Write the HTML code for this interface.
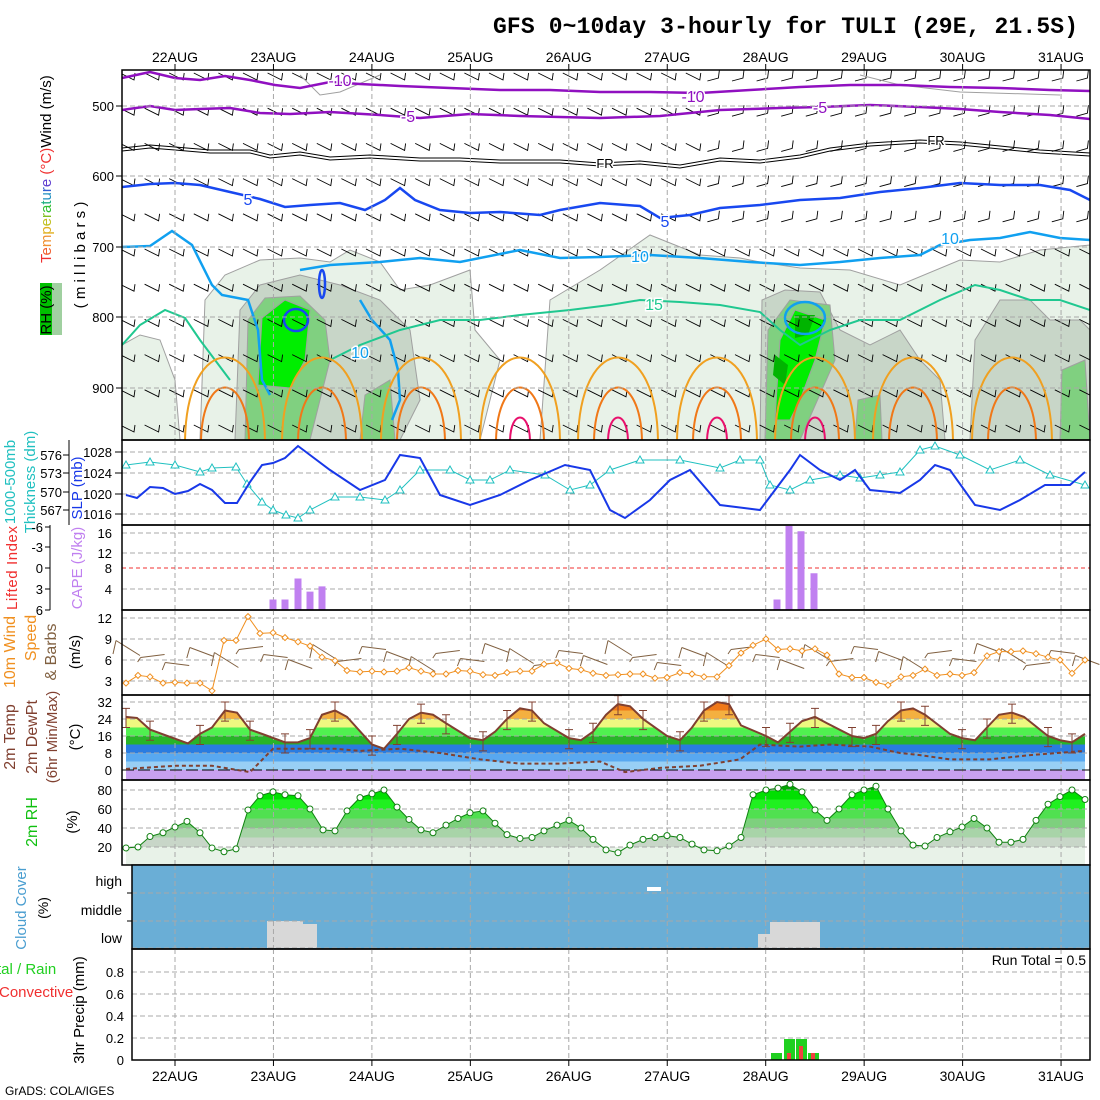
<!DOCTYPE html>
<html><head><meta charset="utf-8"><style>
html,body{margin:0;padding:0;background:#fff;width:1100px;height:1100px;overflow:hidden}
svg{display:block}
text{font-family:"Liberation Sans",sans-serif}
</style></head><body>
<svg id="s" width="1100" height="1100" xmlns="http://www.w3.org/2000/svg"></svg>
<script>
var S=[];function a(s){S.push(s);}
var L=122,R=1090;
var days=['22AUG','23AUG','24AUG','25AUG','26AUG','27AUG','28AUG','29AUG','30AUG','31AUG'];
function dx(i){return 175+98.45*i;}
function pl(pts,st){return '<polyline fill="none" points="'+pts.map(function(p){return p[0]+','+p[1]}).join(' ')+'" '+st+'/>';}
function txt(x,y,t,st){a('<text x="'+x+'" y="'+y+'" '+(st||'')+'>'+t+'</text>');}
function rot(x,y,t,st){a('<text transform="translate('+x+','+y+') rotate(-90)" text-anchor="middle" '+(st||'')+'>'+t+'</text>');}
function hgrid(y,x0){a('<line x1="'+(x0||L)+'" x2="'+R+'" y1="'+y+'" y2="'+y+'" stroke="#a8a8a8" stroke-dasharray="5,3"/>');}
function vgrid(y0,y1){for(var i=0;i<10;i++)a('<line x1="'+dx(i)+'" x2="'+dx(i)+'" y1="'+y0+'" y2="'+y1+'" stroke="#a8a8a8" stroke-dasharray="5,3"/>');}
a('<text x="493" y="33" font-family="Liberation Mono" font-weight="bold" font-size="23" textLength="585" style="font-family:\'Liberation Mono\',monospace">GFS 0~10day 3-hourly for TULI (29E, 21.5S)</text>');
for(var i=0;i<10;i++){txt(dx(i),62,days[i],'font-size="14" text-anchor="middle" textLength="46"');txt(dx(i),1081,days[i],'font-size="14" text-anchor="middle" textLength="46"');
 a('<line x1="'+dx(i)+'" x2="'+dx(i)+'" y1="64" y2="70" stroke="#000"/>');a('<line x1="'+dx(i)+'" x2="'+dx(i)+'" y1="1060" y2="1066" stroke="#000"/>');}
a('<clipPath id="c1"><rect x="122" y="70" width="968" height="370"/></clipPath><g clip-path="url(#c1)">');
function poly(p,f){a('<polygon points="'+p+'" fill="'+f+'" stroke="#a0a0a0" stroke-width="1"/>');}
poly('200,440 205,300 225,275 260,260 300,258 330,262 350,250 380,262 400,290 430,285 470,270 475,330 500,360 480,440','#e8f2e8');
poly('122,440 122,345 140,335 160,340 175,380 180,440','#e8f2e8');
poly('540,440 550,300 600,270 650,235 700,255 740,258 760,262 800,268 850,270 900,285 960,260 1000,262 1040,250 1090,245 1090,440','#e8f2e8');
poly('235,440 240,310 260,285 300,275 340,285 380,300 410,330 420,400 400,440','#c8d6c8');
poly('760,440 762,300 785,290 820,292 840,330 870,345 900,330 920,360 940,380 945,440','#c8d6c8');
poly('970,440 975,340 1000,300 1030,300 1050,320 1080,320 1090,330 1090,440','#c8d6c8');
poly('245,440 248,320 265,298 300,296 325,320 330,360 310,440','#80d080');
poly('360,440 365,395 390,380 395,440','#80d080');
poly('765,440 768,330 790,300 830,305 835,360 800,440','#80d080');
poly('855,440 858,400 880,395 882,440','#80d080');
poly('1060,440 1062,370 1085,360 1090,440','#80d080');
poly('258,385 262,318 285,300 310,310 305,360 290,388','#00ee00');
poly('775,420 780,340 795,310 825,320 815,360 800,400 790,420','#00ee00');
a('<polygon points="795,315 815,315 808,335 795,338" fill="#00b400"/><polygon points="775,355 788,365 785,385 773,375" fill="#00b400"/>');
for(var j=0;j<11;j++){var y=78+j*35.2;for(var k=0;k<40;k++){var x=128+k*24.6;var up=(x>700&&j<5);
 if(up){a('<path d="M'+(x-11)+','+(y+3)+' L'+(x)+','+(y)+' L'+(x+1)+','+(y-8)+'" fill="none" stroke="#000" stroke-width="0.9"/>');}
 else{a('<path d="M'+(x-8)+','+(y-5)+' L'+(x+6)+','+(y+2)+' L'+(x+7)+','+(y-5)+'" fill="none" stroke="#000" stroke-width="0.9"/>');}}}
a(pl([[300,75],[320,95],[340,92],[380,75]],'stroke="#a0a0a0"'));
a(pl([[860,75],[900,85],[960,92],[1060,95]],'stroke="#a0a0a0"'));
a(pl([[122,78],[150,72],[175,78],[200,80],[225,76],[250,80],[275,85],[300,88],[330,82],[360,84],[400,86],[450,88],[500,90],[550,90],[600,92],[650,92],[700,93],[750,90],[800,87],[850,85],[900,85],[950,87],[1000,88],[1050,90],[1090,91]],'stroke="#9010c0" stroke-width="2.5"'));
a(pl([[122,110],[150,106],[175,110],[200,109],[230,108],[260,113],[290,114],[330,112],[380,115],[420,118],[470,114],[520,116],[600,118],[660,116],[720,110],[780,108],[820,107],[870,105],[920,107],[960,109],[1000,112],[1050,115],[1090,119]],'stroke="#9010c0" stroke-width="2.5"'));
var fr=[[122,148],[150,145],[175,147],[210,150],[250,150],[270,155],[300,152],[330,157],[370,155],[420,158],[460,158],[500,160],[560,160],[600,163],[640,161],[680,165],[720,158],[760,160],[800,155],[830,148],[870,143],[920,140],[960,142],[1000,146],[1040,150],[1090,153]];
a(pl(fr,'stroke="#000" stroke-width="1"'));a(pl(fr.map(function(p){return [p[0],p[1]+3]}),'stroke="#000" stroke-width="1"'));
a(pl([[122,187],[150,184],[175,183],[200,185],[230,192],[260,199],[285,207],[310,205],[340,203],[365,210],[385,200],[400,188],[415,200],[440,210],[470,213],[500,212],[540,215],[560,210],[600,203],[640,206],[660,218],[690,215],[720,208],[760,205],[800,200],[840,198],[880,192],[920,188],[960,183],[1000,185],[1040,185],[1070,190],[1090,200]],'stroke="#1848f0" stroke-width="2.5"'));
a(pl([[122,247],[150,246],[172,231],[192,245],[212,285],[222,295],[248,300],[258,330],[262,380],[270,395]],'stroke="#10a0f0" stroke-width="2.5"'));
a(pl([[300,270],[330,265],[380,262],[420,258],[460,262],[520,250],[560,258],[600,257],[650,255],[700,258],[750,262],[800,265],[840,262],[880,258],[920,255],[940,245],[970,240],[1000,238],[1030,232],[1060,238],[1090,240]],'stroke="#10a0f0" stroke-width="2.5"'));
a(pl([[360,300],[372,320],[390,340],[398,370],[400,400],[392,420]],'stroke="#10a0f0" stroke-width="2.5"'));
a('<ellipse cx="296" cy="320" rx="12" ry="11" fill="none" stroke="#1848f0" stroke-width="2.5"/><ellipse cx="322" cy="284" rx="3" ry="14" fill="none" stroke="#1848f0" stroke-width="2.5"/><ellipse cx="805" cy="318" rx="20" ry="16" fill="none" stroke="#10a0f0" stroke-width="2.5"/>');
a(pl([[122,345],[140,325],[165,310],[185,318],[200,340],[215,360],[230,380]],'stroke="#20c890" stroke-width="2"'));
a(pl([[330,360],[360,345],[400,330],[440,320],[480,320],[520,315],[570,310],[610,305],[640,300],[680,302],[720,305],[760,312],[780,330],[800,345],[830,330],[860,320],[900,320],[940,300],[975,285],[1000,290],[1030,300],[1060,300],[1090,310]],'stroke="#20c890" stroke-width="2"'));
var peaks=[225,322,421,520,618,717,815,913,1012];
peaks.forEach(function(p,i){a('<path d="M'+(p-40)+',440 C'+(p-38)+',330 '+(p+38)+',330 '+(p+40)+',440" fill="none" stroke="#f0a020" stroke-width="2"/>');
 a('<path d="M'+(p-24)+',440 C'+(p-22)+',370 '+(p+22)+',370 '+(p+24)+',440" fill="none" stroke="#f07818" stroke-width="2"/>');
 if(i>=3&&i<=6)a('<path d="M'+(p-10)+',440 C'+(p-9)+',410 '+(p+9)+',410 '+(p+10)+',440" fill="none" stroke="#e8106c" stroke-width="2"/>');});
a('</g>');
vgrid(70,440);[106,176,247,317,388].forEach(function(y){hgrid(y);});
function lab(x,y,t,c,fs){a('<text x="'+x+'" y="'+y+'" fill="'+c+'" font-size="'+(fs||16)+'" text-anchor="middle" stroke="#fff" stroke-width="3" paint-order="stroke">'+t+'</text>');}
lab(340,86,'-10','#9010c0');lab(693,102,'-10','#9010c0');lab(408,122,'-5','#9010c0');lab(820,113,'-5','#9010c0');
lab(605,168,'FR','#000',13);lab(936,145,'FR','#000',13);lab(248,205,'5','#1848f0');lab(665,227,'5','#1848f0');
lab(640,262,'10','#10a0f0');lab(950,244,'10','#10a0f0');lab(360,358,'10','#10a0f0');lab(654,310,'15','#20c890');
a('<rect x="122" y="70" width="968" height="370" fill="none" stroke="#000" stroke-width="1.5"/>');
[[106,'500'],[176,'600'],[247,'700'],[317,'800'],[388,'900']].forEach(function(t){txt(114,t[0]+5,t[1],'font-size="13" text-anchor="end"');a('<line x1="116" x2="122" y1="'+t[0]+'" y2="'+t[0]+'" stroke="#000"/>');});
a('<rect x="40" y="283" width="22" height="52" fill="#00c000"/><rect x="52" y="283" width="10" height="52" fill="#a0d0a0"/>');
rot(51,310,'RH (%)','font-size="15"');
a('<text transform="translate(51,263) rotate(-90)" font-size="15"><tspan fill="#f03030">T</tspan><tspan fill="#f06030">e</tspan><tspan fill="#f09030">m</tspan><tspan fill="#e0b020">p</tspan><tspan fill="#c0c020">e</tspan><tspan fill="#80c020">r</tspan><tspan fill="#30c030">a</tspan><tspan fill="#20b080">t</tspan><tspan fill="#2090c0">u</tspan><tspan fill="#3060d0">r</tspan><tspan fill="#6040d0">e</tspan><tspan fill="#f03030"> (°C)</tspan><tspan fill="#000">Wind (m/s)</tspan></text>');
rot(85,255,'( m i l l i b a r s )','font-size="15"');
vgrid(440,525);[452,473,494,514].forEach(function(y){hgrid(y);});
var th=[[126,465],[150,462],[175,465],[200,472],[212,468],[236,467],[247,484],[262,502],[273,510],[286,515],[298,518],[310,510],[335,497],[360,497],[385,500],[400,490],[420,470],[450,470],[470,480],[490,480],[510,470],[545,475],[570,490],[590,485],[610,470],[640,460],[680,460],[720,468],[740,460],[760,460],[770,485],[790,490],[810,480],[840,475],[860,478],[880,475],[900,472],[920,450],[935,446],[960,455],[990,470],[1020,460],[1050,475],[1085,485]];
a(pl(th,'stroke="#20c0c0" stroke-width="1"'));th.forEach(function(p){a('<path d="M'+(p[0]-4)+','+(p[1]+3)+' L'+p[0]+','+(p[1]-4)+' L'+(p[0]+4)+','+(p[1]+3)+'Z" fill="#fff" stroke="#20c0c0"/>');});
a(pl([[126,495],[137,498],[150,487],[163,488],[175,494],[188,491],[200,484],[212,490],[225,503],[237,503],[250,482],[262,465],[273,463],[285,458],[298,446],[310,455],[330,470],[360,490],[385,480],[400,455],[420,458],[440,495],[470,505],[500,495],[530,480],[565,465],[590,470],[610,510],[625,518],[650,500],[670,480],[690,470],[720,505],[760,510],[790,470],[800,455],[820,470],[840,480],[855,470],[870,490],[900,493],[920,480],[935,465],[950,470],[975,505],[1000,510],[1020,500],[1045,485],[1070,485],[1085,472]],'stroke="#1838e8" stroke-width="2"'));
a('<rect x="122" y="440" width="968" height="85" fill="none" stroke="#000" stroke-width="1.5"/>');
[[452,'1028'],[473,'1024'],[494,'1020'],[514,'1016']].forEach(function(t){txt(112,t[0]+5,t[1],'font-size="13" text-anchor="end"');a('<line x1="115" x2="122" y1="'+t[0]+'" y2="'+t[0]+'" stroke="#000"/>');});
[[455,'576'],[473,'573'],[492,'570'],[510,'567']].forEach(function(t){txt(62,t[0]+5,t[1],'font-size="13" text-anchor="end"');a('<line x1="63" x2="69" y1="'+t[0]+'" y2="'+t[0]+'" stroke="#000"/>');});
a('<line x1="69" x2="69" y1="440" y2="525" stroke="#000"/>');
rot(15,482,'1000-500mb','font-size="15" fill="#20c0c0"');rot(35,482,'Thickness (dm)','font-size="15" fill="#20c0c0"');rot(82,488,'SLP (mb)','font-size="15" fill="#1838e8"');
vgrid(525,610);[533,553,589].forEach(function(y){hgrid(y);});
a('<line x1="122" x2="1090" y1="568" y2="568" stroke="#f03030" stroke-dasharray="4,3"/>');
[[273,2],[285,2],[298,6],[310,3.5],[322,4.5],[777,2],[789,16],[801,15],[814,7]].forEach(function(b){a('<rect x="'+(b[0]-3.5)+'" y="'+(610-b[1]*5.25)+'" width="7" height="'+(b[1]*5.25)+'" fill="#c080f0"/>');});
a('<rect x="122" y="525" width="968" height="85" fill="none" stroke="#000" stroke-width="1.5"/>');
[[533,'16'],[553,'12'],[568,'8'],[589,'4']].forEach(function(t){txt(112,t[0]+5,t[1],'font-size="13" text-anchor="end"');});
a('<line x1="50" x2="50" y1="525" y2="610" stroke="#000"/>');
[[527,'-6'],[547,'-3'],[568,'0'],[589,'3'],[610,'6']].forEach(function(t){txt(43,t[0]+5,t[1],'font-size="13" text-anchor="end"');a('<line x1="45" x2="50" y1="'+t[0]+'" y2="'+t[0]+'" stroke="#000"/>');});
rot(17,568,'Lifted Index','font-size="15" fill="#f03030" textLength="84"');rot(82,568,'CAPE (J/kg)','font-size="15" fill="#c080f0"');
vgrid(610,695);[618,639,660,681].forEach(function(y){hgrid(y);});
for(var k=0;k<40;k++){var x=128+k*24.6;var yy=648+((k*7)%5)*4;var d=((k*3)%4)-1.5;a('<path d="M'+(x-12)+','+(yy-3+d*3)+' L'+(x+12)+','+(yy+3-d*3)+' M'+(x-12)+','+(yy-3+d*3)+' L'+(x-15)+','+(yy+6)+'" stroke="#806040" fill="none" stroke-width="1"/>');}
var ws=[[126,2.7],[138,3.8],[150,3.6],[163,2.7],[175,2.8],[187,2.7],[200,2.7],[212,1.6],[224,8.8],[236,8.8],[248,12.2],[260,9.8],[273,9.9],[285,9.2],[298,8.6],[310,8.0],[322,6.4],[335,5.9],[347,4.5],[360,4.3],[372,4.4],[384,4.3],[397,4.4],[409,4.9],[421,4.4],[433,4.0],[446,4.0],[458,4.5],[470,4.4],[483,3.9],[495,3.8],[507,4.2],[520,4.4],[532,4.4],[544,5.4],[557,5.6],[569,4.8],[581,4.6],[593,4.1],[606,3.8],[618,3.9],[630,4.0],[643,4.0],[655,3.4],[667,3.5],[680,4.2],[692,4.0],[704,3.6],[717,3.6],[729,5.2],[741,7.0],[753,8.1],[766,9.0],[778,7.5],[790,7.6],[802,7.3],[815,7.6],[827,6.7],[839,4.0],[852,3.5],[864,3.5],[876,2.8],[888,2.4],[901,3.6],[913,3.8],[925,4.7],[937,3.8],[950,4.0],[962,3.8],[974,4.2],[987,6.6],[999,7.2],[1011,7.2],[1023,7.3],[1036,6.9],[1048,6.4],[1060,6.0],[1072,4.1],[1085,6.0]].map(function(p){return [p[0],702-7*p[1]];});
a(pl(ws,'stroke="#f09020" stroke-width="1"'));ws.forEach(function(p){a('<path d="M'+(p[0]-3)+','+p[1]+' L'+p[0]+','+(p[1]-3)+' L'+(p[0]+3)+','+p[1]+' L'+p[0]+','+(p[1]+3)+'Z" fill="#fff" stroke="#f09020"/>');});
a('<rect x="122" y="610" width="968" height="85" fill="none" stroke="#000" stroke-width="1.5"/>');
[[618,'12'],[639,'9'],[660,'6'],[681,'3']].forEach(function(t){txt(112,t[0]+5,t[1],'font-size="13" text-anchor="end"');});
rot(15,652,'10m Wind','font-size="16" fill="#f09020"');rot(36,638,'Speed','font-size="16" fill="#f09020"');rot(56,652,'&amp; Barbs','font-size="16" fill="#806040"');rot(80,652,'(m/s)','font-size="15"');
var tp=[[126,25],[137,24.5],[150,19],[188,12.5],[200,17],[212,20],[225,28],[237,27],[250,19],[262,17],[285,13],[298,13],[310,15],[322,26],[335,28],[347,25],[372,12],[384,10],[397,17],[409,24],[421,27],[433,26],[446,22],[470,15],[483,14],[495,18],[507,24],[520,29],[532,28],[544,22],[569,15],[581,14],[593,18],[606,26],[618,31],[630,30],[643,24],[667,16],[680,14],[692,20],[704,28],[717,32],[729,31],[741,21],[766,16],[778,13],[790,18],[802,23],[815,25],[827,22],[852,16],[864,15],[876,17],[888,23],[901,28],[913,29],[925,26],[950,17],[962,15],[975,14],[987,20],[999,26],[1012,27],[1024,25],[1048,16],[1060,14],[1072,13],[1085,17]];
function ty(t){return 770-2.125*t;}
var tpp=tp.map(function(p){return [p[0],ty(p[1])];});
a('<clipPath id="c5"><polygon points="126,780 '+tpp.map(function(p){return p[0]+','+p[1]}).join(' ')+' 1085,780"/></clipPath><g clip-path="url(#c5)">');
[[-6,0,'#c8a0f0'],[0,4,'#98cff5'],[4,8,'#58a8f0'],[8,12,'#2a7ce0'],[12,16,'#28b428'],[16,20,'#50f050'],[20,24,'#eef880'],[24,28,'#f4b040'],[28,34,'#f07818']].forEach(function(b){a('<rect x="122" y="'+ty(b[1])+'" width="968" height="'+(ty(b[0])-ty(b[1]))+'" fill="'+b[2]+'"/>');});
a('</g>');
vgrid(695,780);[702,719,736,753].forEach(function(y){hgrid(y);});
a('<line x1="122" x2="1090" y1="770" y2="770" stroke="#000" stroke-dasharray="12,4"/>');
a(pl(tpp,'stroke="#804030" stroke-width="2"'));
tp.forEach(function(p,i){if(i%2==0){var y1=ty(p[1]+4),y2=ty(p[1]-5);a('<path d="M'+p[0]+','+y1+' V'+y2+' M'+(p[0]-4)+','+y1+' h8 M'+(p[0]-4)+','+y2+' h8" stroke="#804030" stroke-width="1"/>');}});
var dp=[[126,0.5],[175,2],[212,2],[250,-1],[273,10],[298,10],[335,10],[360,9],[400,10],[440,8],[480,5],[520,3],[560,3],[600,4],[625,-1],[660,1],[700,2],[740,5],[760,12],[800,11],[830,12],[870,11],[900,8],[920,7],[950,5],[990,5],[1030,7],[1085,9]].map(function(p){return [p[0],ty(p[1])];});
a(pl(dp,'stroke="#804030" stroke-width="2" stroke-dasharray="4,3"'));
a('<rect x="122" y="695" width="968" height="85" fill="none" stroke="#000" stroke-width="1.5"/>');
[[702,'32'],[719,'24'],[736,'16'],[753,'8'],[770,'0']].forEach(function(t){txt(112,t[0]+5,t[1],'font-size="13" text-anchor="end"');});
rot(15,737,'2m Temp','font-size="16" fill="#804030"');rot(37,737,'2m DewPt','font-size="16" fill="#804030"');rot(57,737,'(6hr Min/Max)','font-size="15" fill="#804030"');rot(80,737,'(°C)','font-size="15"');
var rh=[[126,19],[138,20],[150,31],[163,35],[175,41],[187,47],[200,35],[212,19],[224,15],[236,18],[248,59],[260,74],[273,78],[285,75],[298,74],[310,60],[323,38],[335,37],[347,58],[360,72],[372,76],[384,80],[397,62],[409,49],[421,38],[433,35],[446,43],[458,50],[470,56],[483,58],[495,45],[507,33],[520,29],[532,30],[544,37],[557,43],[569,48],[581,40],[593,28],[606,17],[618,14],[630,22],[643,28],[655,30],[667,32],[680,30],[692,23],[704,17],[717,16],[729,21],[741,30],[753,75],[766,80],[778,82],[790,86],[802,78],[815,59],[827,48],[839,60],[852,75],[864,80],[876,84],[888,60],[901,37],[913,22],[925,21],[937,30],[950,36],[962,41],[974,50],[987,40],[999,25],[1011,25],[1023,28],[1036,48],[1048,65],[1060,73],[1072,80],[1085,70]];
function ry(v){return 866-0.95*v;}
var rp=rh.map(function(p){return [p[0],ry(p[1])];});
a('<rect x="126" y="'+ry(20)+'" width="959" height="'+(865-ry(20))+'" fill="#e8f2e8"/>');
a('<clipPath id="c6"><polygon points="126,865 '+rp.map(function(p){return p[0]+','+p[1]}).join(' ')+' 1085,865"/></clipPath><g clip-path="url(#c6)">');
[[0,30,'#c8d6c8'],[30,40,'#a8d4a8'],[40,50,'#7ed07e'],[50,60,'#50e050'],[60,70,'#20f020'],[70,80,'#00e000'],[80,100,'#00a800']].forEach(function(b){a('<rect x="122" y="'+ry(b[1])+'" width="968" height="'+(ry(b[0])-ry(b[1]))+'" fill="'+b[2]+'"/>');});
a('<rect x="122" y="'+ry(20)+'" width="968" height="40" fill="#e8f2e8"/></g>');
vgrid(780,865);[790,809,828,847].forEach(function(y){hgrid(y);});
a(pl(rp,'stroke="#108010" stroke-width="1"'));rp.forEach(function(p){a('<circle cx="'+p[0]+'" cy="'+p[1]+'" r="3" fill="#fff" stroke="#108010"/>');});
a('<rect x="122" y="780" width="968" height="85" fill="none" stroke="#000" stroke-width="1.5"/>');
[[790,'80'],[809,'60'],[828,'40'],[847,'20']].forEach(function(t){txt(112,t[0]+5,t[1],'font-size="13" text-anchor="end"');});
rot(37,822,'2m RH','font-size="16" fill="#10c010"');rot(77,822,'(%)','font-size="15"');
a('<rect x="132" y="865" width="958" height="84" fill="#6aaed6"/>');
a('<rect x="267" y="921" width="36" height="27" fill="#d8d8d8"/><rect x="303" y="924" width="14" height="24" fill="#d8d8d8"/><rect x="758" y="934" width="12" height="14" fill="#d8d8d8"/><rect x="770" y="922" width="50" height="26" fill="#d8d8d8"/><rect x="647" y="887" width="14" height="4" fill="#fff"/>');
vgrid(865,949);[893,921,948].forEach(function(y){hgrid(y,132);});
a('<rect x="132" y="865" width="958" height="84" fill="none" stroke="#000" stroke-width="1.5"/>');
[893,921].forEach(function(y){a('<line x1="127" x2="132" y1="'+y+'" y2="'+y+'" stroke="#000"/>');});
txt(122,886,'high','font-size="14" text-anchor="end"');txt(122,915,'middle','font-size="14" text-anchor="end"');txt(122,943,'low','font-size="14" text-anchor="end"');
rot(26,908,'Cloud Cover','font-size="15" fill="#4a9ed0"');rot(48,908,'(%)','font-size="14"');
vgrid(949,1060);[972,994,1016,1038].forEach(function(y){hgrid(y,132);});
a('<rect x="771" y="1053" width="11" height="7" fill="#20d020"/><rect x="784" y="1039" width="11" height="21" fill="#20d020"/><rect x="796" y="1039" width="11" height="21" fill="#20d020"/><rect x="808" y="1053" width="11" height="7" fill="#20d020"/>');
a('<rect x="787" y="1053" width="4" height="7" fill="#f04040"/><rect x="799" y="1046" width="4" height="14" fill="#f04040"/><rect x="811" y="1053" width="4" height="7" fill="#f04040"/>');
a('<rect x="132" y="949" width="958" height="111" fill="none" stroke="#000" stroke-width="1.5"/>');
txt(1086,965,'Run Total = 0.5','font-size="14" text-anchor="end"');
[[972,'0.8'],[994,'0.6'],[1016,'0.4'],[1038,'0.2'],[1060,'0']].forEach(function(t){txt(124,t[0]+5,t[1],'font-size="13" text-anchor="end"');});
txt(-3,974,'tal / Rain','font-size="15" fill="#20d020"');txt(-1,997,'Convective','font-size="15" fill="#f03030"');
rot(84,1010,'3hr Precip (mm)','font-size="15"');
txt(5,1095,'GrADS: COLA/IGES','font-size="12"');
document.getElementById('s').innerHTML=S.join('');
</script>
</body></html>
